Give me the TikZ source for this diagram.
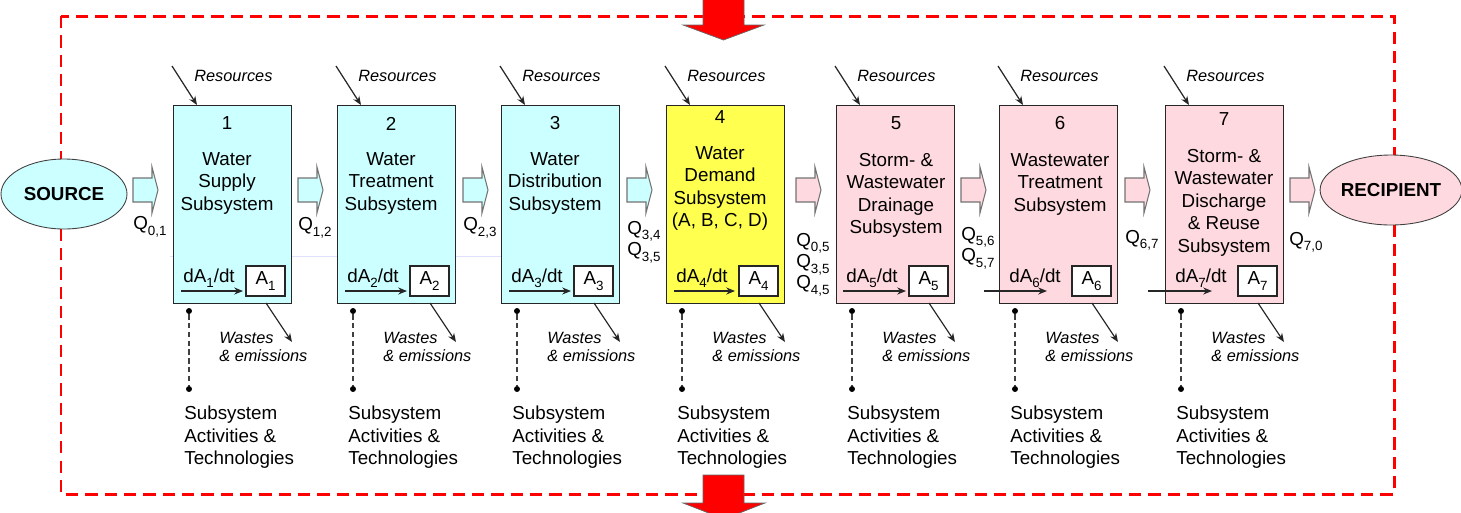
\documentclass[tikz,border=0pt]{standalone}
\usepackage{fontspec}
\setmainfont{Liberation Sans}
\usetikzlibrary{shapes.geometric,arrows.meta,positioning,calc}

\definecolor{supplycyan}{RGB}{204,255,255}
\definecolor{demandyellow}{RGB}{255,255,80}
\definecolor{wastepink}{RGB}{255,217,224}
\newcommand{\mainsize}{\fontsize{10.7pt}{12.8pt}\selectfont}
\newcommand{\qsize}{\fontsize{10.7pt}{12pt}\selectfont}
\newcommand{\notesize}{\fontsize{9.3pt}{10.2pt}\selectfont}
\newcommand{\lowsub}[1]{\raisebox{-0.55ex}{\fontsize{7.6pt}{8pt}\selectfont #1}}

\begin{document}
\begin{tikzpicture}[
    x=0.02cm, y=-0.02cm,
    subsys/.style={rectangle, draw=black!85, line width=0.8pt, minimum width=2.36cm, minimum height=3.96cm, inner sep=0pt, anchor=north west},
    endpt/.style={ellipse, draw=black!75, line width=0.5pt, minimum width=2.52cm, minimum height=1.4cm, inner sep=0pt, font=\mainsize\bfseries},
    numtxt/.style={font=\mainsize, inner sep=0pt},
    titletxt/.style={font=\mainsize, align=center, inner sep=0pt, anchor=north},
    qtxt/.style={font=\qsize, align=left, inner sep=0pt, anchor=north west},
    notetxt/.style={font=\notesize\itshape, align=left, inner sep=0pt},
    storebox/.style={rectangle, draw=black!85, fill=white, line width=0.7pt, minimum width=0.78cm, minimum height=0.6cm, inner sep=0pt, font=\mainsize},
    thinarrow/.style={-{Stealth[length=5pt,width=4pt]}, line width=0.7pt, black!85},
    flowarrow/.style={draw=black!55, line width=0.6pt},
    dotnode/.style={circle, fill=black, inner sep=0pt, minimum size=3.4pt},
    link/.style={dash pattern=on 3pt off 2pt, line width=0.6pt, black!75},
    boundary/.style={red, line width=1.7pt, dash pattern=on 7pt off 4pt},
    bigarrow/.style={fill=red, draw=black!60, line width=0.4pt}
    ]

    \useasboundingbox (0,0) rectangle (1461,512);
    \clip (0,0) rectangle (1461,512);

    % System boundary
    \draw[boundary] (61,16) rectangle (1394,494);
    \draw[blue!12, line width=0.5pt] (170,256) -- (550,256);
    \draw[white, line width=0.5pt] (550,256) -- (622,256);

    % Source and recipient
    \node[endpt, fill=supplycyan] (src) at (64,194) {SOURCE};
    \node[endpt, fill=wastepink] (rcp) at (1391,190) {RECIPIENT};

    % Row of subsystems
    \node[subsys, fill=supplycyan] (b1) at (173,105) {};
    \node[subsys, fill=supplycyan] (b2) at (337,105) {};
    \node[subsys, fill=supplycyan] (b3) at (501,105) {};
    \node[subsys, fill=demandyellow] (b4) at (666,105) {};
    \node[subsys, fill=wastepink] (b5) at (836,105) {};
    \node[subsys, fill=wastepink] (b6) at (999,105) {};
    \node[subsys, fill=wastepink] (b7) at (1165,105) {};

    \node[numtxt] (n1) at (227,123.5) {1};
    \node[titletxt] (t1) at (227,152) {Water\\Supply\\Subsystem};
    \node[numtxt] (n2) at (391,123.5) {2};
    \node[titletxt] (t2) at (391,152) {Water\\Treatment\\Subsystem};
    \node[numtxt] (n3) at (555,123.5) {3};
    \node[titletxt] (t3) at (555,152) {Water\\Distribution\\Subsystem};
    \node[numtxt] (n4) at (720,117.5) {4};
    \node[titletxt] (t4) at (720,146) {Water\\Demand\\Subsystem\\(A, B, C, D)};
    \node[numtxt] (n5) at (896,123) {5};
    \node[titletxt] (t5) at (896,153) {Storm- \&\\Wastewater\\Drainage\\Subsystem};
    \node[numtxt] (n6) at (1060,123) {6};
    \node[titletxt] (t6) at (1060,153) {Wastewater\\Treatment\\Subsystem};
    \node[numtxt] (n7) at (1224,119.5) {7};
    \node[titletxt] (t7) at (1224,149) {Storm- \&\\Wastewater\\Discharge\\\& Reuse\\Subsystem};

    % Flows between subsystems
    \foreach \x/\c in {133/supplycyan, 298/supplycyan, 463/supplycyan, 627/supplycyan,
                       796/wastepink, 961/wastepink, 1125/wastepink, 1290/wastepink}
        \filldraw[flowarrow, fill=\c] (\x,178) -- ++(19,0) -- ++(0,-11) -- ++(6,23)
            -- ++(-6,23) -- ++(0,-11) -- ++(-19,0) -- cycle;

    \node[qtxt] (q01) at (133,216.5) {Q\lowsub{0,1}};
    \node[qtxt] (q12) at (298,217.5) {Q\lowsub{1,2}};
    \node[qtxt] (q23) at (463,217.5) {Q\lowsub{2,3}};
    \node[qtxt] (q34) at (627,221) {Q\lowsub{3,4}\\Q\lowsub{3,5}};
    \node[qtxt] (q45) at (796,233) {Q\lowsub{0,5}\\Q\lowsub{3,5}\\Q\lowsub{4,5}};
    \node[qtxt] (q56) at (961,227) {Q\lowsub{5,6}\\Q\lowsub{5,7}};
    \node[qtxt] (q67) at (1125,230) {Q\lowsub{6,7}};
    \node[qtxt] (q70) at (1289,232) {Q\lowsub{7,0}};

    % Inputs, storage, outputs and activities of each subsystem
    \foreach \i/\ds/\de in {1/8/70, 2/8/70, 3/8/70, 4/8/69, 5/7/70, 6/-15/48, 7/-17/47} {
        \draw[thinarrow] ($(b\i.north west)+(-1,-39)$) -- ($(b\i.north west)+(24,0)$);
        \node[notetxt, anchor=base west] (r\i) at ($(b\i.north west)+(21,-24)$) {Resources};

        \node[storebox] (a\i) at ($(b\i.north west)+(92.5,176)$) {A\lowsub{\i}};
        \node[font=\mainsize, inner sep=0pt, anchor=base west] (g\i) at ($(b\i.north west)+(10,177)$) {dA\lowsub{\i}/dt};
        \draw[thinarrow] ($(b\i.north west)+(\ds,186)$) -- ($(b\i.north west)+(\de,186)$);

        \draw[thinarrow] ($(b\i.north west)+(93,198)$) -- ($(b\i.north west)+(119,237)$);
        \node[notetxt, anchor=north west] (w\i) at ($(b\i.north west)+(46,227)$) {Wastes\\\& emissions};

        \node[dotnode] (d\i) at ($(b\i.north west)+(16,206)$) {};
        \node[dotnode] (e\i) at ($(b\i.north west)+(16,284)$) {};
        \draw[link] (d\i) -- (e\i);
        \node[font=\mainsize, align=left, inner sep=0pt, anchor=north west] (s\i) at ($(b\i.north west)+(11,301)$) {Subsystem\\Activities \&\\Technologies};
    }

    % Exchange across the boundary
    \filldraw[bigarrow] (703,-2) -- (744,-2) -- (744,25) -- (764,25) -- (723.5,40) -- (683,25) -- (703,25) -- cycle;
    \filldraw[bigarrow] (703,475) -- (744,475) -- (744,503) -- (765,503) -- (724,519) -- (683,503) -- (703,503) -- cycle;

\end{tikzpicture}
\end{document}
